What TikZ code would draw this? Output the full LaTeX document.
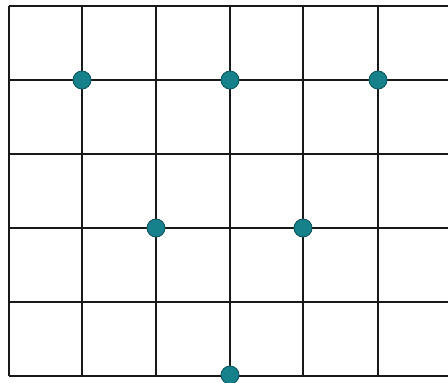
\documentclass[tikz,border=0pt]{standalone}
\definecolor{dotfill}{HTML}{17818B}
\definecolor{dotline}{HTML}{0E5860}
\tikzset{
  gridline/.style={line width=1.8pt, draw=black!90},
  gdot/.style={circle, fill=dotfill, draw=dotline, line width=0.9pt, minimum size=18pt, inner sep=0pt}
}
\begin{document}
\begin{tikzpicture}[x=1pt,y=-1pt]
\useasboundingbox (0,0) rectangle (448,383);
\clip (0,0) rectangle (448,383);
\foreach \y in {6,80,154,228,302,376} \draw[gridline] (9,\y) -- (460,\y);
\foreach \x in {9,82,156,230,303,378} \draw[gridline] (\x,6) -- (\x,376);
\node[gdot] (d1) at (82,80) {};
\node[gdot] (d2) at (230,80) {};
\node[gdot] (d3) at (378,80) {};
\node[gdot] (d4) at (156,228) {};
\node[gdot] (d5) at (303,228) {};
\node[gdot] (d6) at (230,375) {};
\end{tikzpicture}
\end{document}
